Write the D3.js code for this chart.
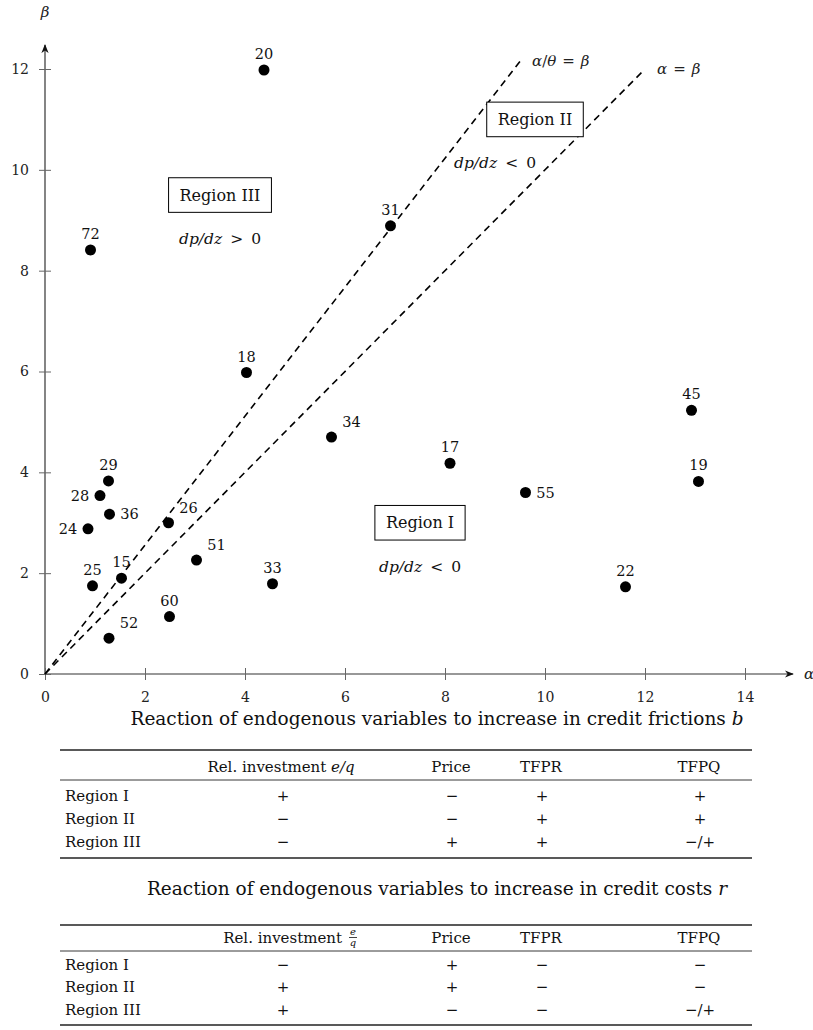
<!DOCTYPE html>
<html>
<head>
<meta charset="utf-8">
<script src="https://cdn.jsdelivr.net/npm/d3@7"></script>
<style>
  body { margin: 0; background: #fff; }
  svg { display: block; }
</style>
</head>
<body>
<div id="chart"></div>
<script>
// firms: label, alpha (x) and beta (y)
const ids   = ["20", "31", "72", "18", "34", "17", "45", "19", "55", "22", "29",
               "28", "36", "24", "26", "51", "25", "15", "33", "60", "52"];
const alpha = [4.38, 6.91, 0.91, 4.03, 5.73, 8.10, 12.93, 13.07, 9.61, 11.61, 1.27,
               1.10, 1.29, 0.86, 2.47, 3.03, 0.95, 1.53, 4.55, 2.49, 1.28];
const beta  = [11.98, 8.89, 8.41, 5.98, 4.70, 4.18, 5.23, 3.82, 3.60, 1.73, 3.83,
               3.54, 3.17, 2.88, 3.00, 2.26, 1.75, 1.90, 1.79, 1.14, 0.71];

const xTicks = [0, 2, 4, 6, 8, 10, 12, 14];
const yTicks = [0, 2, 4, 6, 8, 10, 12];

// boundary lines through the origin
const boundaryNames = ["α/θ = β", "α = β"];
const boundaryEnds  = [[9.5, 12.15], [12, 12]];

// regions
const regionNames  = ["Region I", "Region II", "Region III"];
const regionAlpha  = [7.5, 9.8, 3.5];
const regionBeta   = [3.0, 11.0, 9.5];
const regionSign   = ["<", "<", ">"];
const signAlpha    = [7.5, 9.0, 3.5];
const signBeta     = [2.13, 10.13, 8.62];

// tables
const tableTitles = ["Reaction of endogenous variables to increase in credit frictions ",
                     "Reaction of endogenous variables to increase in credit costs "];
const tableVars   = ["b", "r"];
const colNames    = ["Rel. investment", "Price", "TFPR", "TFPQ"];
const frictionSigns = [["+", "−", "+", "+"],
                       ["−", "−", "+", "+"],
                       ["−", "+", "+", "−/+"]];
const costSigns     = [["−", "+", "−", "−"],
                       ["+", "+", "−", "−"],
                       ["+", "−", "−", "−/+"]];

const W = 813, H = 1030;
const svg = d3.select("#chart").append("svg")
  .attr("width", W).attr("height", H)
  .style("font-family", "'DejaVu Serif', serif");

const x = d3.scaleLinear().domain([0, 14]).range([45, 745]);
const y = d3.scaleLinear().domain([0, 12]).range([674, 69]);

// arrow head
svg.append("defs").append("marker")
  .attr("id", "arr")
  .attr("viewBox", "0 0 10 10")
  .attr("refX", 9).attr("refY", 5)
  .attr("markerWidth", 9).attr("markerHeight", 9)
  .attr("markerUnits", "userSpaceOnUse")
  .attr("orient", "auto")
  .append("path")
  .attr("d", "M0,1 L10,5 L0,9 L3,5 Z")
  .attr("fill", "#111");

// axes lines
svg.append("line")
  .attr("x1", x(0)).attr("y1", y(0)).attr("x2", 793).attr("y2", y(0))
  .attr("stroke", "#333").attr("stroke-width", 1.2).attr("marker-end", "url(#arr)");
svg.append("line")
  .attr("x1", x(0)).attr("y1", y(0)).attr("x2", x(0)).attr("y2", 45)
  .attr("stroke", "#333").attr("stroke-width", 1.2).attr("marker-end", "url(#arr)");

const gx = svg.append("g")
  .attr("transform", `translate(0,${y(0)})`)
  .call(d3.axisBottom(x).tickValues(xTicks).tickSize(6).tickPadding(12));
gx.select(".domain").remove();
gx.selectAll(".tick line").attr("y1", -6).attr("y2", 6).attr("stroke", "#666");
gx.selectAll(".tick text").attr("font-family", "'DejaVu Serif', serif")
  .attr("font-size", 14).attr("fill", "#222");

const gy = svg.append("g")
  .attr("transform", `translate(${x(0)},0)`)
  .call(d3.axisLeft(y).tickValues(yTicks).tickSize(6).tickPadding(10));
gy.select(".domain").remove();
gy.selectAll(".tick line").attr("x1", -6).attr("x2", 6).attr("stroke", "#666");
gy.selectAll(".tick text").attr("font-family", "'DejaVu Serif', serif")
  .attr("font-size", 14).attr("fill", "#222");

// axis names
svg.append("text").attr("x", x(0)).attr("y", 17)
  .attr("text-anchor", "middle").attr("font-style", "italic")
  .attr("font-size", 15).attr("fill", "#222").text("β");
svg.append("text").attr("x", 804).attr("y", y(0) + 5)
  .attr("font-style", "italic").attr("font-size", 15).attr("fill", "#222").text("α");

// dashed boundaries
const line = d3.line().x(d => x(d[0])).y(d => y(d[1]));
boundaryEnds.forEach((e, i) => {
  svg.append("path")
    .attr("d", line([[0, 0], e]))
    .attr("fill", "none").attr("stroke", "#000")
    .attr("stroke-width", 1.6).attr("stroke-dasharray", "7,5");
  const parts = boundaryNames[i].split(/([αθβ=])/).map(s => s.trim()).filter(s => s !== "");
  const t = svg.append("text")
    .attr("x", x(e[0]) + 12).attr("y", y(e[1]) + 5)
    .attr("font-size", 15).attr("fill", "#222");
  parts.forEach((p, j) => {
    t.append("tspan")
      .attr("font-style", /[αθβ]/.test(p) ? "italic" : "normal")
      .attr("dx", (p === "=" || parts[j - 1] === "=") ? 6 : 0)
      .text(p);
  });
});

// points
const pts = ids.map((id, i) => ({ id, a: alpha[i], b: beta[i] }));
svg.append("g").selectAll("circle")
  .data(pts).join("circle")
  .attr("cx", d => x(d.a)).attr("cy", d => y(d.b)).attr("r", 5.5)
  .attr("fill", "#000");

// label placement
const side = { "34": "ar", "26": "ar", "51": "ar", "52": "ar",
               "55": "r", "36": "r", "28": "l", "24": "l" };
svg.append("g").selectAll("text")
  .data(pts).join("text")
  .attr("x", d => {
    const s = side[d.id];
    if (s === "ar" || s === "r") return x(d.a) + 20;
    if (s === "l") return x(d.a) - 20;
    return x(d.a);
  })
  .attr("y", d => {
    const s = side[d.id];
    if (s === "r" || s === "l") return y(d.b) + 5;
    if (s === "ar") return y(d.b) - 10;
    return y(d.b) - 11;
  })
  .attr("text-anchor", "middle")
  .attr("font-size", 14.5).attr("fill", "#111")
  .text(d => d.id);

// region boxes
regionNames.forEach((name, i) => {
  const cx = x(regionAlpha[i]), cy = y(regionBeta[i]);
  const g = svg.append("g");
  const rect = g.append("rect");
  const t = g.append("text").attr("x", cx).attr("y", cy + 5.5)
    .attr("text-anchor", "middle").attr("font-size", 16).attr("fill", "#111")
    .text(name);
  const bb = t.node().getBBox();
  rect.attr("x", cx - bb.width / 2 - 11).attr("y", cy - 17.3)
    .attr("width", bb.width + 22).attr("height", 34.6)
    .attr("fill", "#fff").attr("stroke", "#000").attr("stroke-width", 1);

  const s = svg.append("text")
    .attr("x", x(signAlpha[i])).attr("y", y(signBeta[i]) + 5)
    .attr("text-anchor", "middle").attr("font-size", 15.5).attr("fill", "#111");
  s.append("tspan").attr("font-style", "italic").text("dp/dz");
  s.append("tspan").attr("dx", 8).text(regionSign[i]);
  s.append("tspan").attr("dx", 8).text("0");
});

// tables
const colX = [283, 452, 542, 700];
const left = 60, right = 752;

function rule(yy, w) {
  svg.append("line").attr("x1", left).attr("x2", right)
    .attr("y1", yy).attr("y2", yy)
    .attr("stroke", "#222").attr("stroke-width", w);
}

function drawTable(k, titleY, top, headerY, mid, rowYs, bottom, signs) {
  const t = svg.append("text").attr("x", 437).attr("y", titleY)
    .attr("text-anchor", "middle").attr("font-size", 18.5).attr("fill", "#111");
  t.append("tspan").text(tableTitles[k]);
  t.append("tspan").attr("font-style", "italic").text(tableVars[k]);

  rule(top, 1.4);
  rule(mid, 0.9);
  rule(bottom, 1.4);

  if (k === 0) {
    const h = svg.append("text").attr("x", colX[0] - 2).attr("y", headerY)
      .attr("text-anchor", "middle").attr("font-size", 15).attr("fill", "#111");
    h.append("tspan").text(colNames[0] + " ");
    h.append("tspan").attr("font-style", "italic").text("e/q");
  } else {
    svg.append("text").attr("x", 342).attr("y", headerY)
      .attr("text-anchor", "end").attr("font-size", 15).attr("fill", "#111")
      .text(colNames[0]);
    svg.append("text").attr("x", 353).attr("y", headerY - 8.5)
      .attr("text-anchor", "middle").attr("font-size", 10)
      .attr("font-style", "italic").attr("fill", "#111").text("e");
    svg.append("line").attr("x1", 349).attr("x2", 357)
      .attr("y1", headerY - 5.5).attr("y2", headerY - 5.5)
      .attr("stroke", "#111").attr("stroke-width", 0.8);
    svg.append("text").attr("x", 353).attr("y", headerY + 3)
      .attr("text-anchor", "middle").attr("font-size", 10)
      .attr("font-style", "italic").attr("fill", "#111").text("q");
  }
  colNames.slice(1).forEach((c, j) => {
    svg.append("text").attr("x", colX[j + 1] - 1).attr("y", headerY)
      .attr("text-anchor", "middle").attr("font-size", 15).attr("fill", "#111")
      .text(c);
  });

  signs.forEach((row, r) => {
    svg.append("text").attr("x", 65).attr("y", rowYs[r])
      .attr("font-size", 15).attr("fill", "#111").text(regionNames[r]);
    row.forEach((s, j) => {
      svg.append("text").attr("x", colX[j]).attr("y", rowYs[r])
        .attr("text-anchor", "middle").attr("font-size", 15).attr("fill", "#111")
        .text(s);
    });
  });
}

drawTable(0, 725, 750, 772, 780, [801, 824, 847], 858, frictionSigns);
drawTable(1, 895, 925, 943, 951, [970, 992, 1015], 1025, costSigns);
</script>
</body>
</html>
